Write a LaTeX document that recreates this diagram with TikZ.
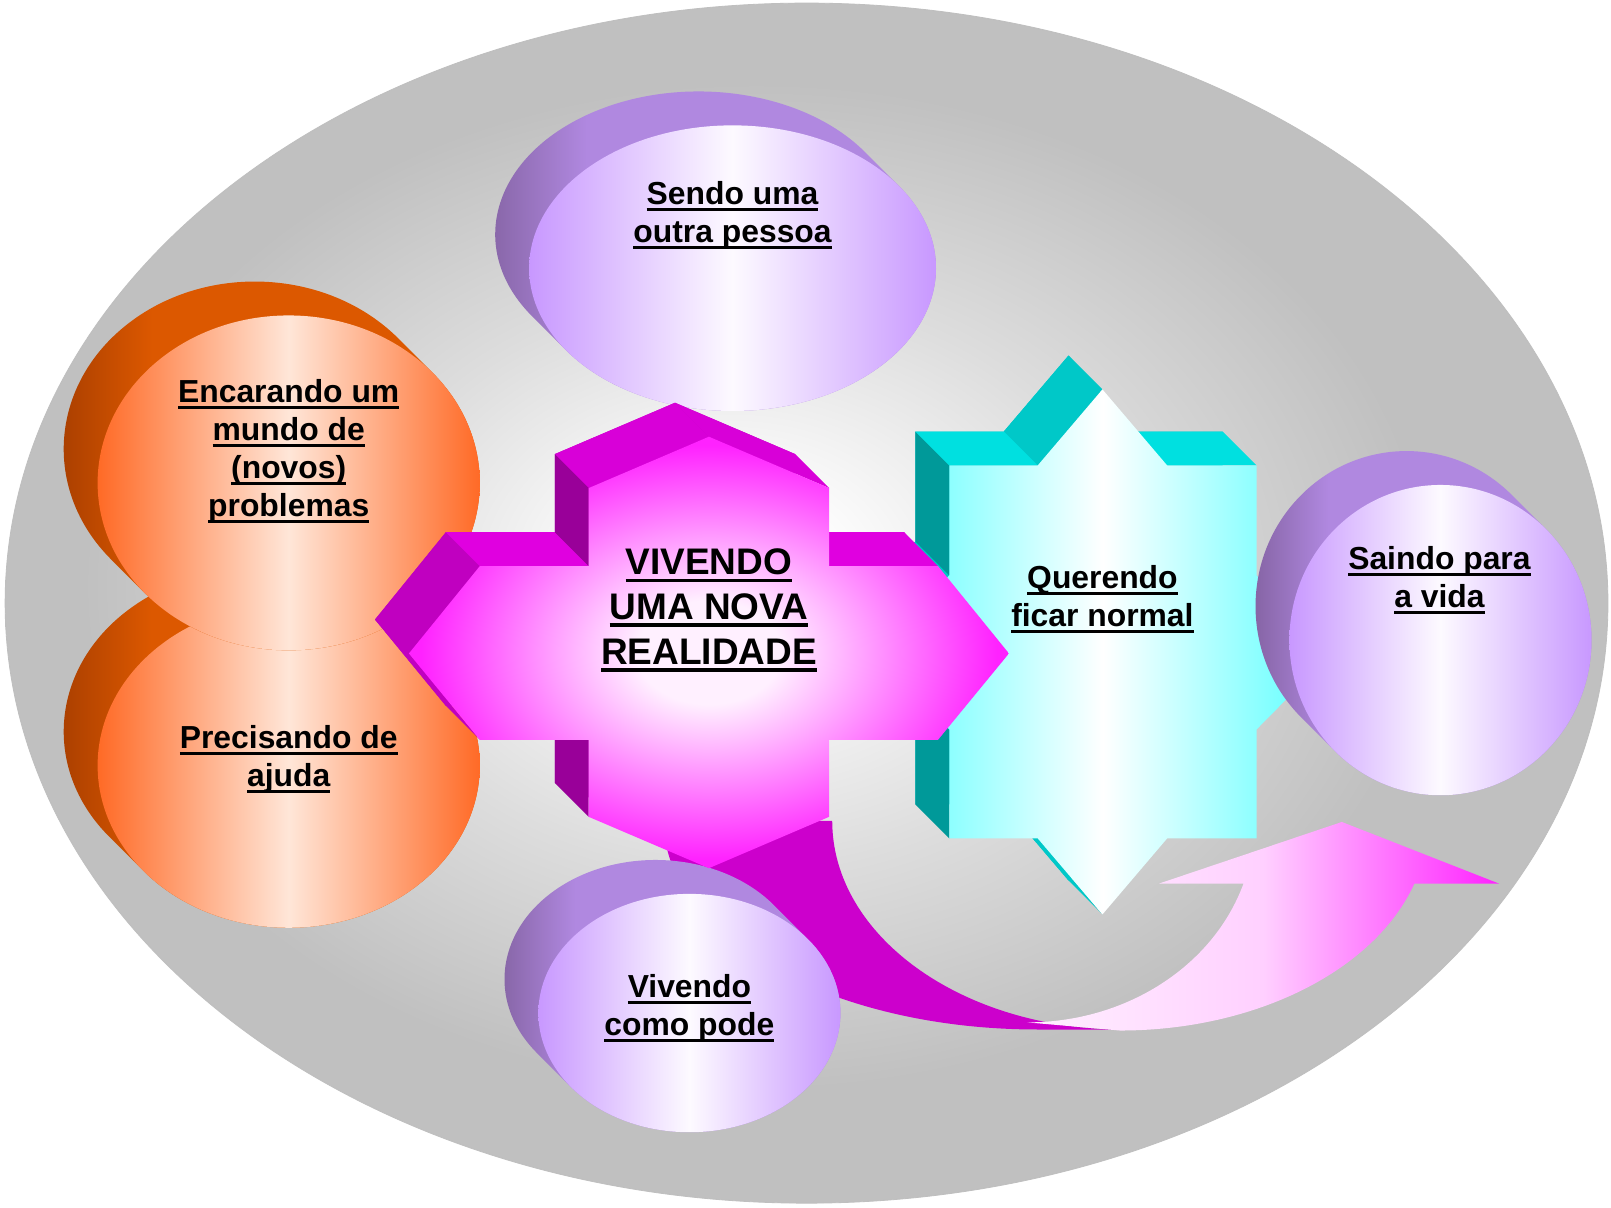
\documentclass[tikz,border=0pt]{standalone}
\usepackage{fontspec}
\setmainfont{Liberation Sans}
\usepackage{tikz}
\usepackage{xcolor}

\definecolor{bgEdge}{HTML}{C0C0C0}
\definecolor{bgMid}{HTML}{DDDDDD}
\definecolor{orFace}{HTML}{FF6A26}
\definecolor{orCore}{HTML}{FFE6D8}
\definecolor{orSide}{HTML}{DC5800}
\definecolor{orDeep}{HTML}{A03A00}
\definecolor{puFace}{HTML}{C898FF}
\definecolor{puCore}{HTML}{FDFAFF}
\definecolor{puSide}{HTML}{B088E0}
\definecolor{puDeep}{HTML}{7E5E9A}
\definecolor{mgCore}{HTML}{FFF0FF}
\definecolor{mgMid}{HTML}{FFD0FF}
\definecolor{mgEdge}{HTML}{FF22FF}
\definecolor{mgTop}{HTML}{E000E0}
\definecolor{mgDiag}{HTML}{D800D8}
\definecolor{mgSlant}{HTML}{C000C0}
\definecolor{mgLeft}{HTML}{990099}
\definecolor{mgBand}{HTML}{CC00CC}
\definecolor{cyFace}{HTML}{55FFFF}
\definecolor{cyTop}{HTML}{00E0E0}
\definecolor{cyDiag}{HTML}{00C8C8}
\definecolor{cyLeft}{HTML}{009999}

\pgfdeclareradialshading{bgglow}{\pgfpoint{-2.7bp}{1.2bp}}{color(0bp)=(white); color(3bp)=(white); color(12bp)=(bgMid); color(21bp)=(bgEdge); color(50bp)=(bgEdge)}
\pgfdeclareradialshading{crossglow}{\pgfpoint{0bp}{0bp}}{color(0bp)=(mgCore); color(6bp)=(mgCore); color(24bp)=(mgEdge); color(50bp)=(mgEdge)}
\pgfdeclarehorizontalshading{orangetube}{100bp}{color(0bp)=(orDeep); color(25bp)=(orDeep); color(37bp)=(orSide); color(100bp)=(orSide)}
\pgfdeclarehorizontalshading{purpletube}{100bp}{color(0bp)=(puDeep); color(25bp)=(puDeep); color(37bp)=(puSide); color(100bp)=(puSide)}

\tikzset{
    backdrop/.style = {draw=black!25, line width=0.4pt, shading=bgglow},
    orange-face/.style = {left color=orFace, right color=orFace, middle color=orCore},
    orange-tube/.style = {shading=orangetube},
    purple-face/.style = {left color=puFace, right color=puFace, middle color=puCore},
    purple-tube/.style = {shading=purpletube},
    cross-face/.style = {shading=crossglow},
    star-face/.style = {left color=cyFace, right color=cyFace, middle color=white},
    band-face/.style = {left color=mgCore, right color=mgEdge, middle color=mgMid},
    label-text/.style = {font=\fontsize{15.5}{18.5}\selectfont\bfseries, align=center, inner sep=0pt},
    core-text/.style = {font=\fontsize{18}{21.75}\selectfont\bfseries, align=center, inner sep=0pt},
}

\newsavebox{\undlbox}
\newcommand{\undl}[1]{\sbox{\undlbox}{#1}\rlap{\rule[-0.2em]{\wd\undlbox}{0.095em}}\usebox{\undlbox}}

% extruded ellipse: centre x, centre y, x radius, y radius, tube style, face style
\newcommand{\drum}[6]{%
    \pgfmathsetmacro{\drumang}{atan(#4/#3)}%
    \path[#5] (#1,#2) ++(-33,-33) ++({360-\drumang}:#3 and #4)
        arc[start angle={360-\drumang}, end angle={180-\drumang}, x radius=#3, y radius=#4]
        -- ++(33,33)
        arc[start angle={180-\drumang}, end angle={-\drumang}, x radius=#3, y radius=#4]
        -- cycle;
    \path[#6] (#1,#2) ellipse [x radius=#3, y radius=#4];
}

\begin{document}
\begin{tikzpicture}[x=0.5pt, y=-0.5pt]
\useasboundingbox (0,0) rectangle (1568,1175);
\fill[white] (0,0) rectangle (1568,1175);
\path[backdrop] (785,587) ellipse [x radius=780, y radius=584];

% orange drums
\drum{281}{745}{186}{158}{orange-tube}{orange-face}
\drum{281}{470}{186}{163}{orange-tube}{orange-face}

% curved arrow
\fill[mgBand] (646,799) arc[start angle=180, end angle=90, x radius=364, y radius=203]
    -- (1093,1002) arc[start angle=90, end angle=180, x radius=283, y radius=203] -- cycle;
\path[band-face] (1090,1003) arc[start angle=90, end angle=17.2, x radius=300, y radius=203]
    -- (1459,860) -- (1306,800) -- (1128,860) -- (1210.3,860)
    arc[start angle=17.9, end angle=90, x radius=221, y radius=195] -- cycle;

% star
\foreach \i/\x/\y in {1/1073/379, 2/1136/453, 3/1223/453, 4/1223/560, 5/1297/635, 6/1223/710,
    7/1223/816, 8/1136/816, 9/1073/890, 10/1010/816, 11/924/816, 12/924/710, 13/850/635,
    14/924/560, 15/924/453, 16/1010/453}{
    \coordinate (s\i) at (\x,\y);
    \coordinate (sb\i) at (\x-33,\y-33);
}
\fill[cyDiag] (sb1) \foreach \i in {2,...,16}{ -- (sb\i)} -- cycle;
\foreach \i/\j/\tone in {16/1/cyDiag, 2/3/cyTop, 9/10/cyDiag, 11/12/cyLeft, 12/13/cyDiag,
    13/14/cyDiag, 14/15/cyLeft, 15/16/cyTop}
    \fill[\tone] (s\i) -- (s\j) -- (sb\j) -- (sb\i) -- cycle;
\path[star-face] (s1) \foreach \i in {2,...,16}{ -- (s\i)} -- cycle;

% purple drums behind the cross
\drum{671}{986}{147}{116}{purple-tube}{purple-face}
\drum{713}{261}{198}{139}{purple-tube}{purple-face}

% cross
\foreach \i/\x/\y in {1/690/425, 2/807/475, 3/807/551, 4/913/551, 5/982/636, 6/913/720,
    7/807/720, 8/807/795, 9/690/845, 10/573/795, 11/573/720, 12/467/720, 13/398/636,
    14/467/551, 15/573/551, 16/573/475}{
    \coordinate (c\i) at (\x,\y);
    \coordinate (cb\i) at (\x-33,\y-33);
}
\fill[mgSlant] (cb1) \foreach \i in {2,...,16}{ -- (cb\i)} -- cycle;
\foreach \i/\j/\tone in {16/1/mgDiag, 1/2/mgDiag, 3/4/mgTop, 10/11/mgLeft, 12/13/mgSlant,
    13/14/mgSlant, 14/15/mgTop, 15/16/mgLeft}
    \fill[\tone] (c\i) -- (c\j) -- (cb\j) -- (cb\i) -- cycle;
\path[cross-face] (c1) \foreach \i in {2,...,16}{ -- (c\i)} -- cycle;

\drum{1402}{623}{147}{151}{purple-tube}{purple-face}

% labels
\node[label-text] (sendo) at (713,209.5) {\undl{Sendo uma}\\\undl{outra pessoa}};
\node[label-text] (encarando) at (281,439.5) {\undl{Encarando um}\\\undl{mundo de}\\\undl{(novos)}\\\undl{problemas}};
\node[label-text] (precisando) at (281,739) {\undl{Precisando de}\\\undl{ajuda}};
\node[core-text] (realidade) at (690,594) {\undl{VIVENDO}\\\undl{UMA NOVA}\\\undl{REALIDADE}};
\node[label-text] (querendo) at (1073,583.5) {\undl{Querendo}\\\undl{ficar normal}};
\node[label-text] (saindo) at (1401,564.5) {\undl{Saindo para}\\\undl{a vida}};
\node[label-text] (comopode) at (671,981.5) {\undl{Vivendo}\\\undl{como pode}};
\end{tikzpicture}
\end{document}
